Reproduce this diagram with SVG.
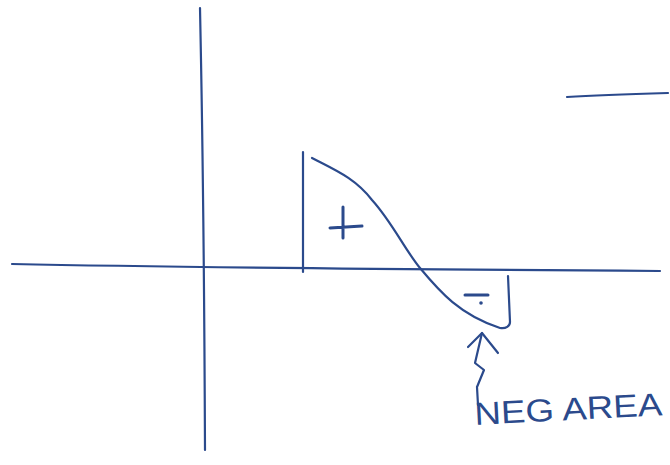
<svg xmlns="http://www.w3.org/2000/svg" width="670" height="465" viewBox="0 0 670 465">
<style>
.ink{fill:none;stroke:#2b4a8c;stroke-width:2.2;stroke-linecap:round;stroke-linejoin:round}
.bold{stroke-width:3}
.txt{fill:#2b4a8c;font-family:"Liberation Sans",Arial,sans-serif;font-size:32px}
</style>
<rect width="670" height="465" fill="#ffffff"/>
<g id="axes">
<path class="ink" d="M12,264 Q200,268 660,271"/>
<path class="ink" d="M200,8 Q204,200 205,450"/>
</g>
<g id="curve">
<path class="ink" d="M303,152 L303,272"/>
<path class="ink" d="M312,158 C335,170 355,178 372,200 C392,222 405,250 420,268 C440,292 460,315 500,328 C506,329 510,326 510,322 L508,276"/>
</g>
<g id="plus">
<path class="ink bold" d="M330,228 L362,226 M343,207 L343,238"/>
</g>
<g id="minus">
<path class="ink bold" d="M465,295 L488,295"/>
<circle cx="481" cy="303" r="1.8" fill="#2b4a8c"/>
</g>
<g id="topline">
<path class="ink" d="M567,97 Q600,95 668,93"/>
</g>
<g id="arrow">
<path class="ink" d="M482,333 L475,363 L484,370 L477,387 L478,405"/>
<path class="ink" d="M468,347 L482,333 L498,353"/>
</g>
<g id="label">
<text class="txt" x="475" y="425" textLength="188" lengthAdjust="spacingAndGlyphs" transform="rotate(-3 475 425)">NEG AREA</text>
</g>
</svg>
